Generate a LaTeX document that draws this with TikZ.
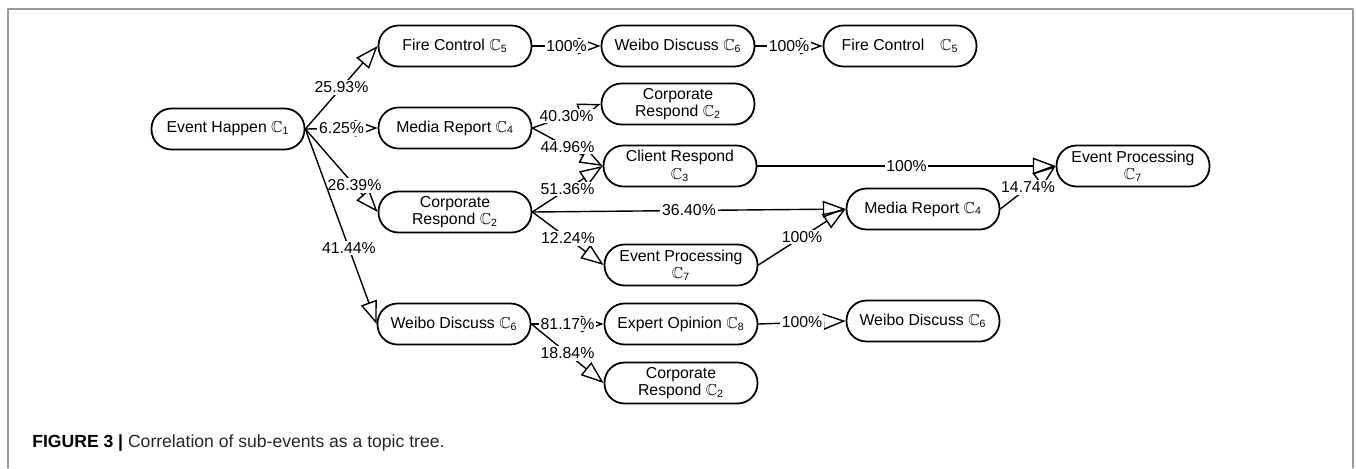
\documentclass[tikz,border=0pt]{standalone}
\usepackage{amssymb}
\usepackage{fontspec}
\setmainfont{Liberation Sans}
\usetikzlibrary{arrows.meta}
\newcommand{\cc}[1]{$\mathbb{C}$\textsubscript{#1}}
\begin{document}
\begin{tikzpicture}[x=0.02cm,y=-0.02cm,line join=round,line cap=round,
		ev/.style={draw,line width=1pt,rounded corners=0.4cm,minimum width=3.06cm,minimum height=0.82cm,
			align=center,inner sep=1pt,font=\fontsize{9}{10}\selectfont},
		link/.style={-{Triangle[open,length=13pt,width=9.5pt]},line width=0.8pt},
		pct/.style={fill=white,inner sep=1pt,font=\fontsize{9}{10}\selectfont}]
	\useasboundingbox (0,0) rectangle (1356,468);
	\draw[gray!80,line width=0.6pt] (8,468)--(8,9)--(1353,9)--(1353,468);
	% sub-events
	\node[ev] (c1) at (228,129) {Event Happen \cc{1}};
	\node[ev] (fire) at (455,46) {Fire Control \cc{5}};
	\node[ev] (weiboA) at (678,46) {Weibo Discuss \cc{6}};
	\node[ev] (fireB) at (900,46) {Fire Control\quad\cc{5}};
	\node[ev] (media) at (455,128) {Media Report \cc{4}};
	\node[ev] (corpA) at (678,104) {Corporate\\Respond \cc{2}};
	\node[ev] (client) at (680,166) {Client Respond\\\cc{3}};
	\node[ev] (corpB) at (455,212) {Corporate\\Respond \cc{2}};
	\node[ev] (mediaB) at (923,209) {Media Report \cc{4}};
	\node[ev] (procA) at (681,265) {Event Processing\\\cc{7}};
	\node[ev] (procB) at (1133,166) {Event Processing\\\cc{7}};
	\node[ev] (weiboB) at (454,324) {Weibo Discuss \cc{6}};
	\node[ev] (expert) at (681,324) {Expert Opinion \cc{8}};
	\node[ev] (weiboC) at (923,321) {Weibo Discuss \cc{6}};
	\node[ev] (corpC) at (681,383) {Corporate\\Respond \cc{2}};
	% transitions
	\draw[link] (c1.east)--node[pct]{25.93\%} (fire.west);
	\draw[link] (c1.east)--node[pct]{6.25\%} (media.west);
	\draw[link] (c1.east)--node[pct,pos=.68]{26.39\%} (corpB.west);
	\draw[link] (c1.east)--node[pct,pos=.61]{41.44\%} (weiboB.west);
	\draw[link] (fire.east)--node[pct]{100\%} (weiboA.west);
	\draw[link] (weiboA.east)--node[pct]{100\%} (fireB.west);
	\draw[link] (media.east)--node[pct]{40.30\%} (corpA.west);
	\draw[link] (media.east)--node[pct]{44.96\%} (client.west);
	\draw[link] (corpB.east)--node[pct]{51.36\%} (client.west);
	\draw[link] (corpB.east)--node[pct]{36.40\%} (mediaB.west);
	\draw[link] (corpB.east)--node[pct]{12.24\%} (procA.west);
	\draw[link] (client.east)--node[pct]{100\%} (procB.west);
	\draw[link] (procA.east)--node[pct]{100\%} (mediaB.west);
	\draw[link] (mediaB.east)--node[pct]{14.74\%} (procB.west);
	\draw[link] (weiboB.east)--node[pct]{81.17\%} (expert.west);
	\draw[link] (weiboB.east)--node[pct]{18.84\%} (corpC.west);
	\draw[link] (expert.east)--node[pct]{100\%} (weiboC.west);
	\node[anchor=base west,inner sep=0pt,font=\fontsize{10}{12}\selectfont,text=black!85] (cap) at (32,447)
		{\textbf{\color{black}FIGURE 3 |} Correlation of sub-events as a topic tree.};
\end{tikzpicture}
\end{document}
